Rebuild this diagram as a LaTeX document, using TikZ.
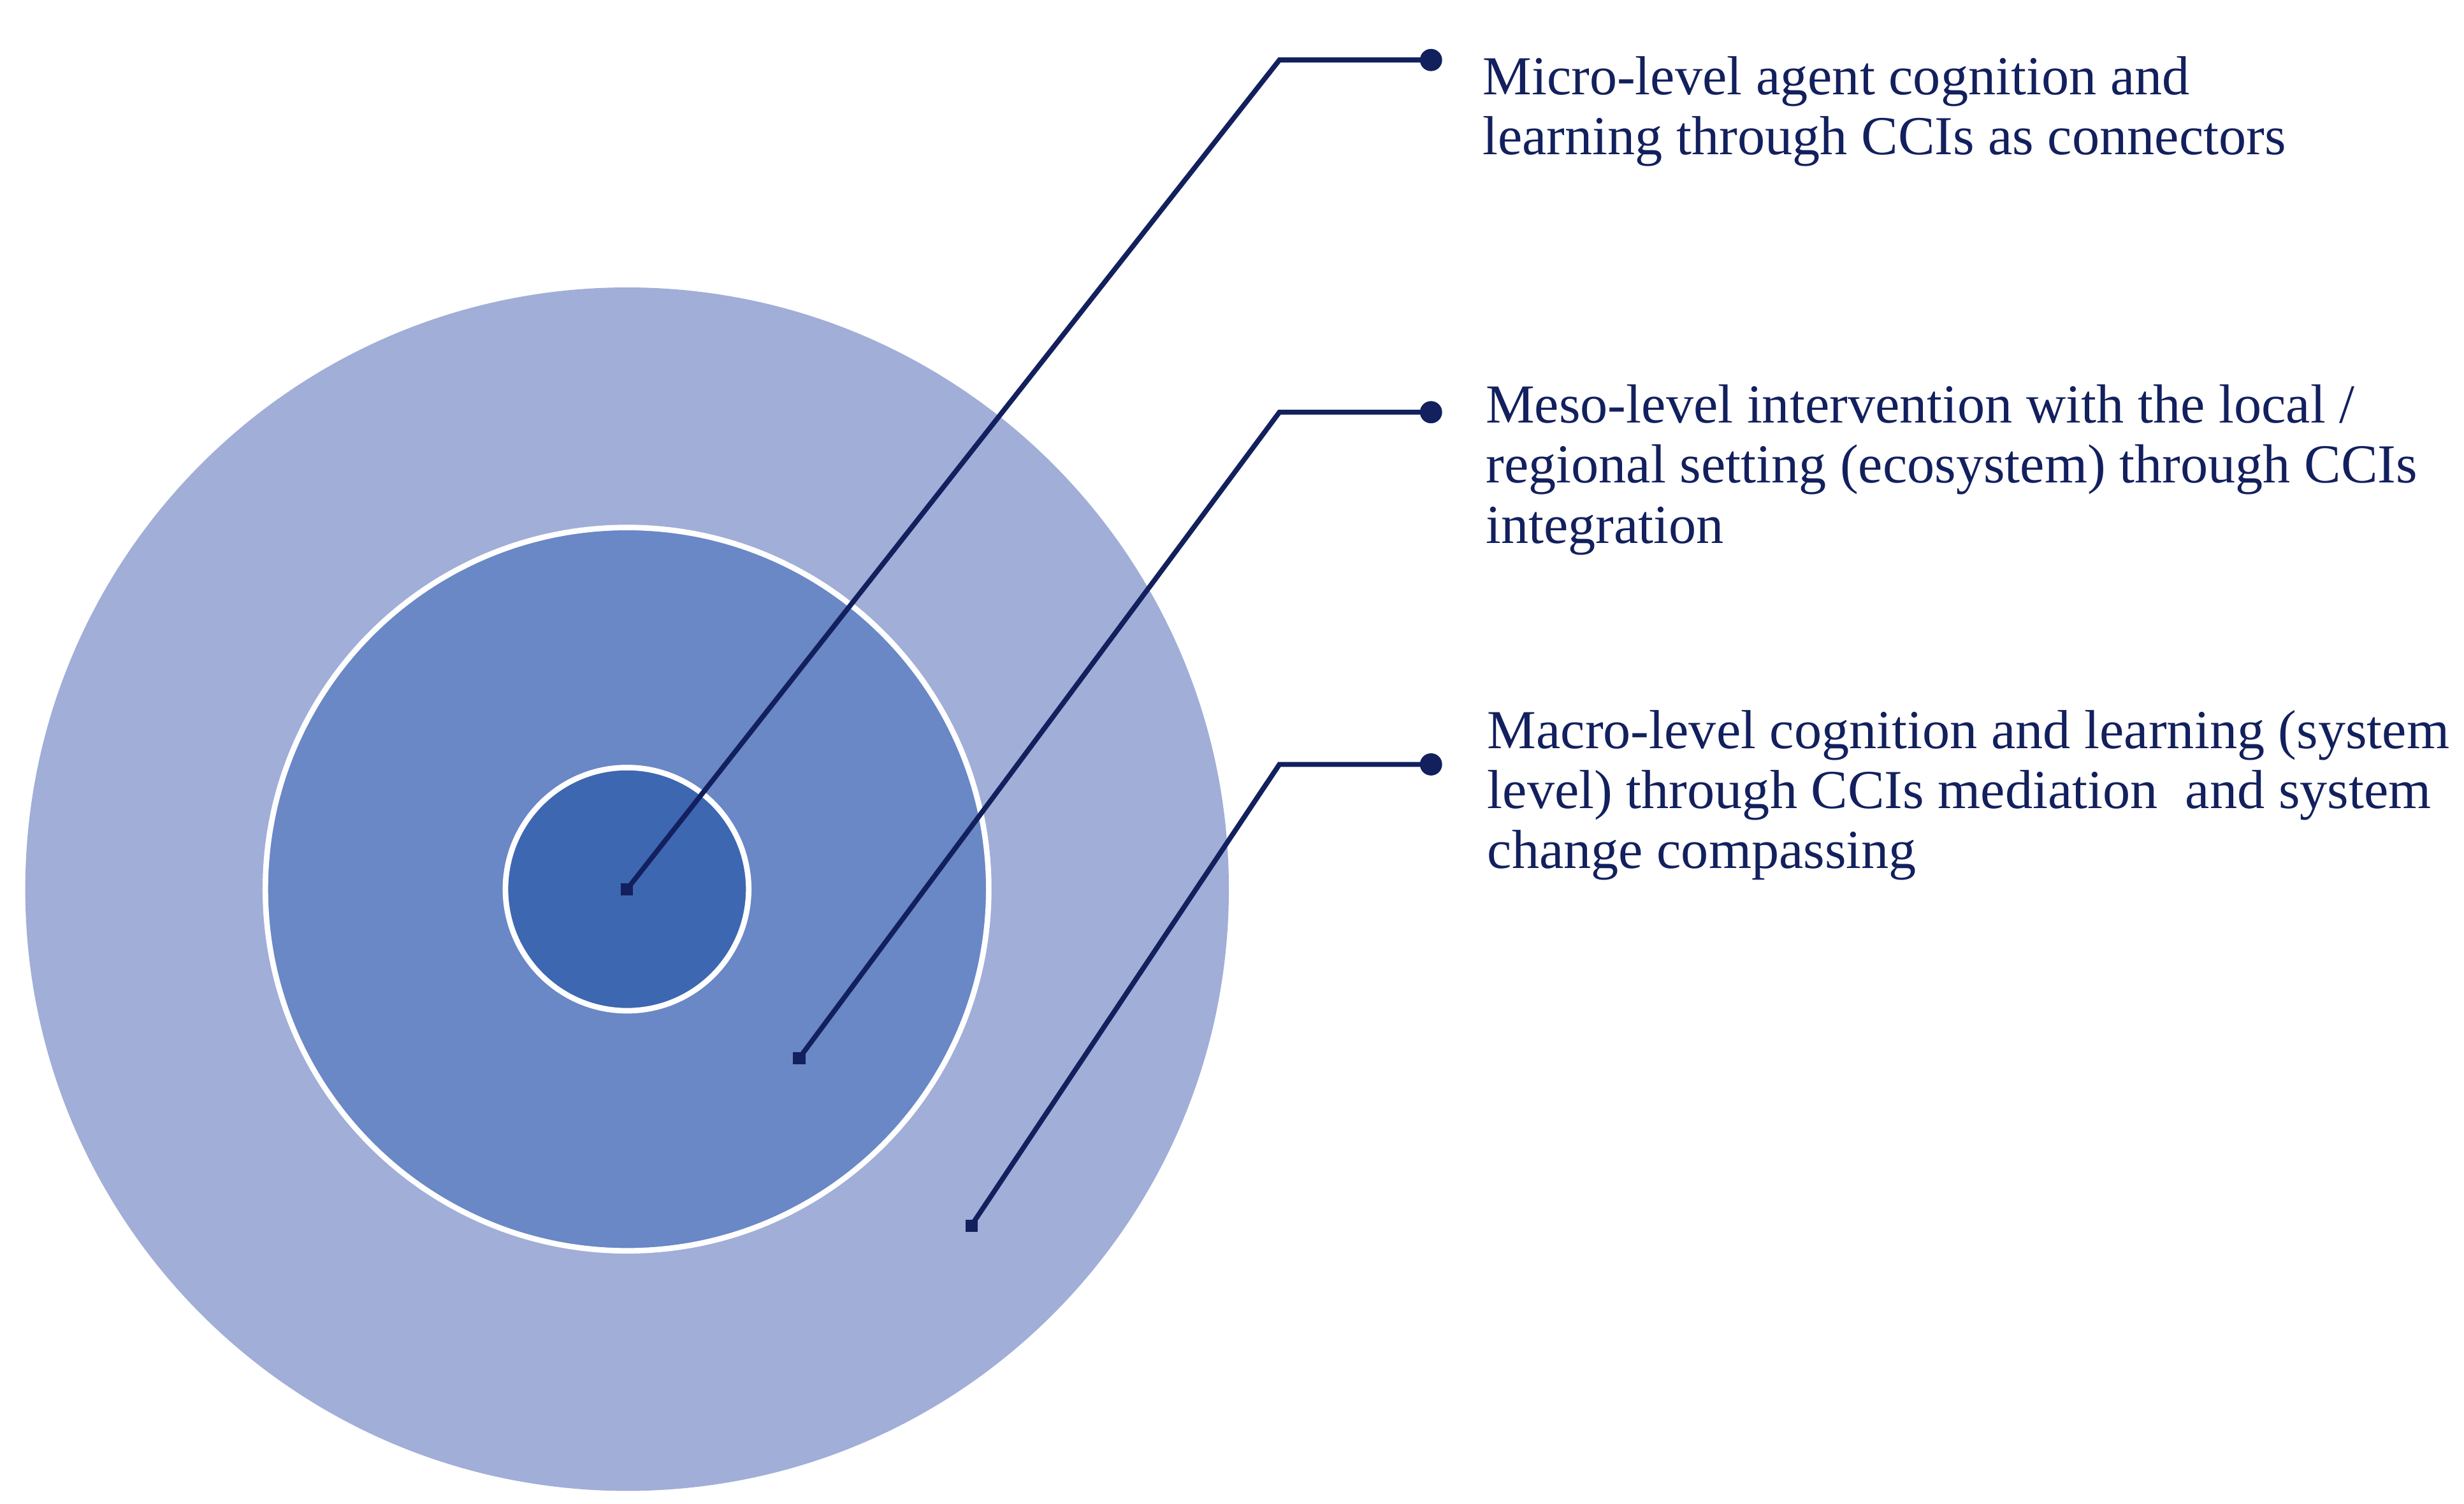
\documentclass[tikz,border=0pt]{standalone}
\usepackage{fontspec}
\setmainfont{Liberation Serif}
\begin{document}
\begin{tikzpicture}[x=0.01cm,y=-0.01cm,
  ln/.style={draw=navy,line width=0.9pt},
  dot/.style={circle,fill=navy,inner sep=0pt,minimum size=4pt},
  sq/.style={fill=navy,inner sep=0pt,minimum size=2.2pt},
  lbl/.style={anchor=north west,align=left,text=navy,font=\fontsize{9.9pt}{10.8pt}\selectfont,inner sep=0pt}]
\definecolor{navy}{HTML}{13205E}
\definecolor{c1}{HTML}{A0AED8}
\definecolor{c2}{HTML}{6A87C6}
\definecolor{c3}{HTML}{3D67B0}
\useasboundingbox (0,0) rectangle (1560,952);
\fill[c1] (397,563) circle (381);
\filldraw[fill=c2,draw=white,line width=1pt] (397,563) circle (229);
\filldraw[fill=c3,draw=white,line width=1pt] (397,563) circle (77);
\node[sq] (s1) at (397,563) {};
\node[sq] (s2) at (506,670) {};
\node[sq] (s3) at (615,776) {};
\coordinate (k1) at (810,38);
\coordinate (k2) at (810,261);
\coordinate (k3) at (810,484);
\node[dot] (d1) at (906,38) {};
\node[dot] (d2) at (906,261) {};
\node[dot] (d3) at (906,484) {};
\draw[ln] (s1.center) -- (k1) -- (d1.center);
\draw[ln] (s2.center) -- (k2) -- (d2.center);
\draw[ln] (s3.center) -- (k3) -- (d3.center);
\node[lbl] (t1) at (938,35) {Micro-level agent cognition and\\learning through CCIs as connectors};
\node[lbl] (t2) at (940,243) {Meso-level intervention with the local /\\regional setting (ecosystem) through CCIs\\integration};
\node[lbl] (t3) at (941,449) {Macro-level cognition and learning (system\\level) through CCIs mediation\ \ and system\\change compassing};
\end{tikzpicture}
\end{document}
